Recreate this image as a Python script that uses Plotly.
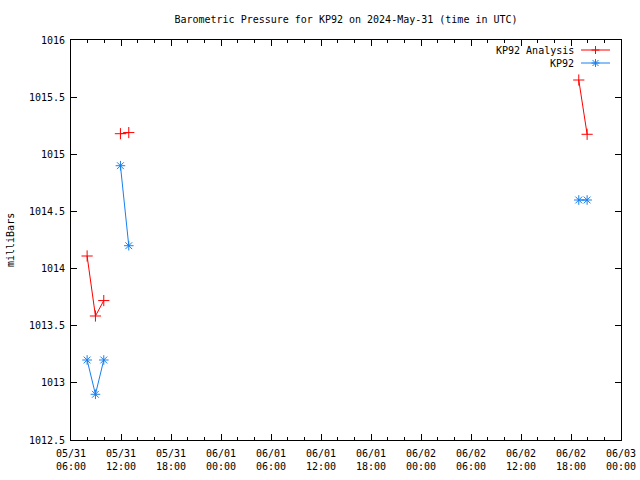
import plotly.graph_objects as go

# ---- data ----
times = ["2024-05-31 07:56", "2024-05-31 08:56", "2024-05-31 09:56", "2024-05-31 10:56",
         "2024-05-31 11:56", "2024-05-31 12:56", "2024-05-31 13:56",
         "2024-06-02 18:56", "2024-06-02 19:56"]
analysis = [1014.11, 1013.585, 1013.72, None, 1015.18, 1015.19, None, 1015.65, 1015.175]
kp92 = [1013.2, 1012.9, 1013.2, None, 1014.9, 1014.2, None, 1014.6, 1014.6]

tick_vals = ["2024-05-31 06:00", "2024-05-31 12:00", "2024-05-31 18:00", "2024-06-01 00:00",
             "2024-06-01 06:00", "2024-06-01 12:00", "2024-06-01 18:00", "2024-06-02 00:00",
             "2024-06-02 06:00", "2024-06-02 12:00", "2024-06-02 18:00", "2024-06-03 00:00"]
tick_text = ["05/31<br>06:00", "05/31<br>12:00", "05/31<br>18:00", "06/01<br>00:00",
             "06/01<br>06:00", "06/01<br>12:00", "06/01<br>18:00", "06/02<br>00:00",
             "06/02<br>06:00", "06/02<br>12:00", "06/02<br>18:00", "06/03<br>00:00"]
y_ticks = [1012.5, 1013, 1013.5, 1014, 1014.5, 1015, 1015.5, 1016]
y_labels = ["1012.5", "1013", "1013.5", "1014", "1014.5", "1015", "1015.5", "1016"]

RED = "#ff0000"
BLUE = "#1680f0"
FONT = "DejaVu Sans Mono"

fig = go.Figure()
fig.add_trace(go.Scatter(x=times, y=analysis, mode="lines+markers", name="KP92 Analysis",
                         line=dict(color=RED, width=1),
                         marker=dict(symbol="cross-thin-open", size=8, color=RED,
                                     line=dict(color=RED, width=1)),
                         showlegend=False))
fig.add_trace(go.Scatter(x=times, y=kp92, mode="lines+markers", name="KP92",
                         line=dict(color=BLUE, width=1),
                         marker=dict(symbol="asterisk-open", size=8, color=BLUE,
                                     line=dict(color=BLUE, width=1)),
                         showlegend=False))

# page body margin is removed (post_script), so the figure fills the window
W, H = 640, 480
PL, PR, PT, PB = 71, 621, 40, 440
L, R, T, B = PL, W - PR, PT, H - PB
pw, ph = PR - PL, PB - PT

def px(x):
    return (x - PL) / pw

def py(y):
    return (PB - y) / ph

shapes = []
annotations = []

def legend_entry(label, color, ypix, kind):
    annotations.append(dict(text=label, x=px(576), y=py(ypix), xref="paper", yref="paper",
                            xanchor="right", yanchor="middle", showarrow=False,
                            font=dict(family=FONT, size=10, color="black")))
    shapes.append(dict(type="line", xref="paper", yref="paper", x0=px(581), x1=px(610),
                       y0=py(ypix), y1=py(ypix), line=dict(color=color, width=1)))
    cx, cy = px(595.5), py(ypix)
    segs = [(-4, 0, 4, 0), (0, -4, 0, 4)]
    if kind == "star":
        segs += [(-3, -3, 3, 3), (-3, 3, 3, -3)]
    for x0, y0, x1, y1 in segs:
        shapes.append(dict(type="line", xref="paper", yref="paper",
                           xsizemode="pixel", ysizemode="pixel", xanchor=cx, yanchor=cy,
                           x0=x0, x1=x1, y0=y0, y1=y1, line=dict(color=color, width=1)))

legend_entry("KP92 Analysis", RED, 50, "plus")
legend_entry("KP92", BLUE, 63, "star")

annotations.append(dict(text="milliBars", x=px(10), y=0.5, xref="paper", yref="paper",
                        xanchor="center", yanchor="middle", textangle=-90, showarrow=False,
                        font=dict(family=FONT, size=10, color="black")))

fig.update_layout(
    width=W, height=H,
    margin=dict(l=L, r=R, t=T, b=B, autoexpand=False),
    paper_bgcolor="white", plot_bgcolor="white",
    font=dict(family=FONT, size=10, color="black"),
    title=dict(text="Barometric Pressure for KP92 on 2024-May-31 (time in UTC)",
               x=346 / W, xanchor="center", y=1 - 19 / H, yanchor="middle",
               font=dict(family=FONT, size=10, color="black")),
    shapes=shapes, annotations=annotations,
    showlegend=False,
)
fig.update_xaxes(type="date", range=["2024-05-31 06:00", "2024-06-03 00:00"],
                 tickmode="array", tickvals=tick_vals, ticktext=tick_text,
                 ticks="inside", ticklen=6, tickcolor="black", tickwidth=1,
                 ticklabelstandoff=4, automargin=False,
                 minor=dict(dtick=2 * 3600 * 1000, tick0="2024-05-31 06:00", ticks="inside",
                            ticklen=3, tickcolor="black", showgrid=False),
                 showline=True, linecolor="black", linewidth=1, mirror="ticks",
                 showgrid=False, zeroline=False, tickfont=dict(family=FONT, size=10))
fig.update_yaxes(range=[1012.5, 1016], tickmode="array", tickvals=y_ticks, ticktext=y_labels,
                 ticks="inside", ticklen=6, tickcolor="black", tickwidth=1,
                 ticklabelstandoff=3, automargin=False,
                 showline=True, linecolor="black", linewidth=1, mirror="ticks",
                 showgrid=False, zeroline=False, tickfont=dict(family=FONT, size=10))

fig.write_html("out.html", config={"displayModeBar": False},
               post_script="document.body.style.margin='0';document.body.style.overflow='hidden';")
